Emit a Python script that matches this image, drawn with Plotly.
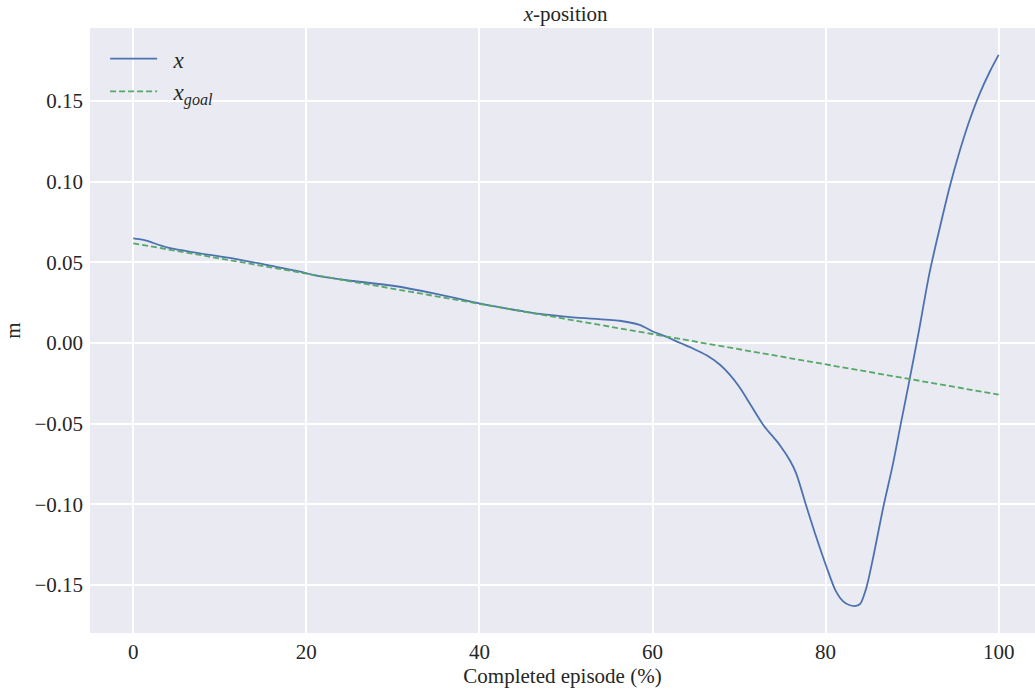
import plotly.graph_objects as go

# Data
episode_pct = [0, 1.2, 3.9, 7.7, 11.5, 15.4, 19.3, 21.2, 25.1, 30, 35, 40, 45, 47,
               50.8, 56.2, 58.5, 60.1, 61.6, 63.2, 64.7, 66.3, 67.8, 68.9, 70.0,
               70.9, 72.8, 74.7, 75.9, 76.6, 77.8, 78.9, 80.1, 81.2, 82.0, 82.8,
               83.5, 84.0, 84.7, 85.5, 86.6, 87.8, 88.7, 89.7, 90.7, 92.0, 93.2,
               94.3, 95.5, 96.6, 97.8, 99.0, 100]
x_pos = [0.0649, 0.0639, 0.0593, 0.0556, 0.0525, 0.0484, 0.0442, 0.0417, 0.0386,
         0.0355, 0.0305, 0.0245, 0.0197, 0.0180, 0.0159, 0.0138, 0.0112, 0.0070,
         0.0039, 0.0000, -0.0035, -0.0078, -0.0135, -0.0195, -0.0270, -0.0345,
         -0.0508, -0.0632, -0.0730, -0.0808, -0.1015, -0.1200, -0.1387, -0.1540,
         -0.1600, -0.1626, -0.1630, -0.1618, -0.1520, -0.1330, -0.1035, -0.0746,
         -0.0498, -0.0229, 0.0050, 0.0432, 0.0715, 0.0960, 0.1190, 0.1375,
         0.1545, 0.1685, 0.1786]

goal_pct = [0, 10, 20, 30, 40, 50, 60, 70, 80, 90, 100]
x_goal = [0.0618, 0.0524, 0.0430, 0.0337, 0.0243, 0.0149, 0.0055, -0.0039,
          -0.0133, -0.0226, -0.0320]

x_ticks = [0, 20, 40, 60, 80, 100]
y_ticks = [-0.15, -0.10, -0.05, 0.00, 0.05, 0.10, 0.15]

FONT = "Liberation Serif"
TXT = "#262626"

fig = go.Figure()
fig.add_trace(go.Scatter(
    x=episode_pct, y=x_pos, mode="lines", name="&nbsp;&nbsp;<i>x</i>",
    line=dict(color="#4C72B0", width=1.8, shape="spline", smoothing=0.8),
))
fig.add_trace(go.Scatter(
    x=goal_pct, y=x_goal, mode="lines",
    name="&nbsp;&nbsp;<i>x</i><sub><i>goal</i></sub>",
    line=dict(color="#55A868", width=1.8, dash="6px,3px"),
))

fig.update_layout(
    width=1035, height=693,
    margin=dict(l=90, r=0, t=28, b=60),
    paper_bgcolor="white", plot_bgcolor="#EAEAF2",
    font=dict(family=FONT, size=21, color=TXT),
    title=dict(text="<i>x</i>-position", x=0.5465, xanchor="center",
               y=0.981, yanchor="middle", font=dict(size=21, color=TXT)),
    showlegend=True,
    legend=dict(x=0.016, y=0.985, xanchor="left", yanchor="top",
                bgcolor="rgba(0,0,0,0)", font=dict(size=23, color=TXT),
                itemwidth=47, tracegroupgap=4),
    xaxis=dict(range=[-5, 104.2], tickvals=x_ticks, showgrid=True,
               gridcolor="white", gridwidth=1.5, zeroline=False,
               showline=False, ticks="", ticklabelstandoff=4,
               title=dict(text="Completed episode (%)", standoff=0,
                          font=dict(size=21, color=TXT)),
               tickfont=dict(size=21, color=TXT)),
    yaxis=dict(range=[-0.1798, 0.1953], tickvals=y_ticks, tickformat=".2f",
               showgrid=True, gridcolor="white", gridwidth=1.5, zeroline=False,
               showline=False, ticks="", ticklabelstandoff=6,
               title=dict(text="m", standoff=8, font=dict(size=21, color=TXT)),
               tickfont=dict(size=21, color=TXT)),
)

fig.write_html("out.html")
